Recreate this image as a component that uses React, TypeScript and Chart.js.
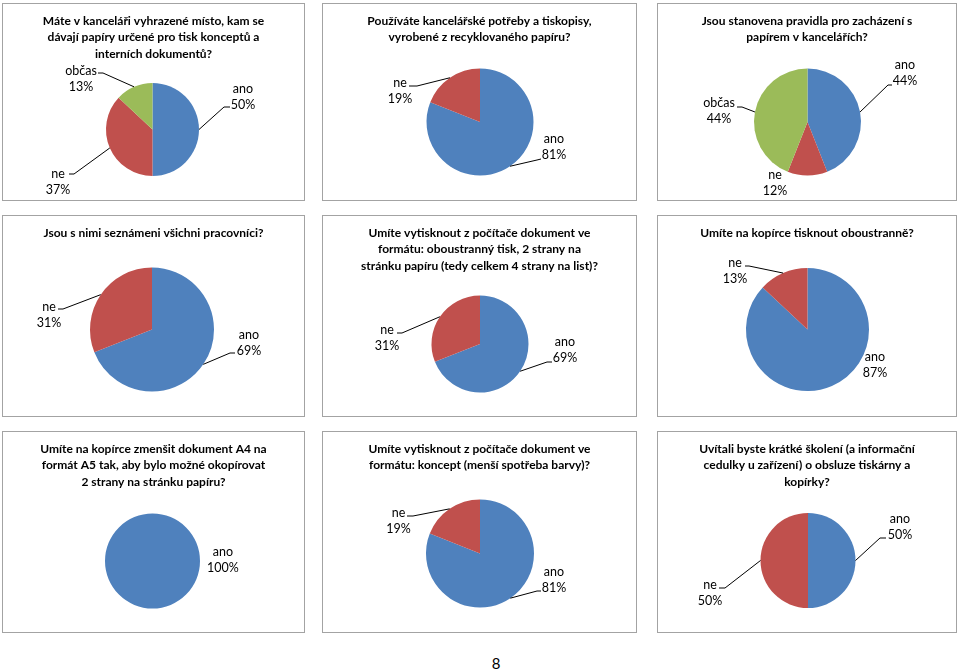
import React, { useEffect, useRef } from 'react';
import { Chart, registerables } from 'chart.js';

Chart.register(...registerables);

// ---------- data ----------
const SLICE_COLORS = ['#4F81BD', '#C0504D', '#9BBB59'];

const Q1_TITLE = ['Máte v kanceláři vyhrazené místo, kam se', 'dávají papíry určené pro tisk konceptů a', 'interních dokumentů?'];
const Q1_LABELS = ['ano', 'ne', 'občas'];
const Q1_VALUES = [50, 37, 13];

const Q2_TITLE = ['Používáte kancelářské potřeby a tiskopisy,', 'vyrobené z recyklovaného papíru?'];
const Q2_LABELS = ['ano', 'ne'];
const Q2_VALUES = [81, 19];

const Q3_TITLE = ['Jsou stanovena pravidla pro zacházení s', 'papírem v kancelářích?'];
const Q3_LABELS = ['ano', 'ne', 'občas'];
const Q3_VALUES = [44, 12, 44];

const Q4_TITLE = ['Jsou s nimi seznámeni všichni pracovníci?'];
const Q4_LABELS = ['ano', 'ne'];
const Q4_VALUES = [69, 31];

const Q5_TITLE = ['Umíte vytisknout z počítače dokument ve', 'formátu: oboustranný tisk, 2 strany na', 'stránku papíru (tedy celkem 4 strany na list)?'];
const Q5_LABELS = ['ano', 'ne'];
const Q5_VALUES = [69, 31];

const Q6_TITLE = ['Umíte na kopírce tisknout oboustranně?'];
const Q6_LABELS = ['ano', 'ne'];
const Q6_VALUES = [87, 13];

const Q7_TITLE = ['Umíte na kopírce zmenšit dokument A4 na', 'formát A5 tak, aby bylo možné okopírovat', '2 strany na stránku papíru?'];
const Q7_LABELS = ['ano'];
const Q7_VALUES = [100];

const Q8_TITLE = ['Umíte vytisknout z počítače dokument ve', 'formátu: koncept (menší spotřeba barvy)?'];
const Q8_LABELS = ['ano', 'ne'];
const Q8_VALUES = [81, 19];

const Q9_TITLE = ['Uvítali byste krátké školení (a informační', 'cedulky u zařízení) o obsluze tiskárny a', 'kopírky?'];
const Q9_LABELS = ['ano', 'ne'];
const Q9_VALUES = [50, 50];

const PAGE_NUMBER = '8';

// ---------- layout ----------
type Callout = { text: [number, number]; end?: [number, number]; elbow?: [number, number] };
type Panel = {
  title: string[];
  labels: string[];
  values: number[];
  box: [number, number, number, number]; // left, top, width, height (page px, incl. border)
  center: [number, number]; // page px
  radius: number;
  callouts: Callout[];
};

const PANELS: Panel[] = [
  {
    title: Q1_TITLE, labels: Q1_LABELS, values: Q1_VALUES,
    box: [2, 3, 303, 198], center: [152.5, 129.5], radius: 46.5,
    callouts: [
      { text: [90.5, -32.5], end: [77.5, -22.5], elbow: [71.5, -22.5] },
      { text: [-94.5, 52.5], end: [-83.5, 44.5], elbow: [-78.5, 44.5] },
      { text: [-71.5, -50.5], end: [-54.5, -56.5], elbow: [-49.5, -56.5] },
    ],
  },
  {
    title: Q2_TITLE, labels: Q2_LABELS, values: Q2_VALUES,
    box: [322, 3, 315, 198], center: [480, 122], radius: 53.5,
    callouts: [
      { text: [74, 25], end: [61, 37], elbow: [57, 38] },
      { text: [-80, -31], end: [-71, -36], elbow: [-63, -36] },
    ],
  },
  {
    title: Q3_TITLE, labels: Q3_LABELS, values: Q3_VALUES,
    box: [657, 3, 300, 198], center: [807.5, 122], radius: 53.5,
    callouts: [
      { text: [97.5, -49], end: [84.5, -37], elbow: [80.5, -37] },
      { text: [-32.5, 61] },
      { text: [-88.5, -11], end: [-70.5, -15], elbow: [-65.5, -15] },
    ],
  },
  {
    title: Q4_TITLE, labels: Q4_LABELS, values: Q4_VALUES,
    box: [2, 215, 303, 202], center: [152, 329.5], radius: 62,
    callouts: [
      { text: [97, 13], end: [83, 23.5], elbow: [78, 23.5] },
      { text: [-103, -14.5], end: [-94, -20.5], elbow: [-89, -20.5] },
    ],
  },
  {
    title: Q5_TITLE, labels: Q5_LABELS, values: Q5_VALUES,
    box: [322, 215, 315, 202], center: [480, 344], radius: 48.5,
    callouts: [
      { text: [85, 6], end: [72, 18], elbow: [67, 18] },
      { text: [-93, -6.5], end: [-83, -11], elbow: [-78, -11] },
    ],
  },
  {
    title: Q6_TITLE, labels: Q6_LABELS, values: Q6_VALUES,
    box: [657, 215, 300, 202], center: [807.5, 329.5], radius: 61.5,
    callouts: [
      { text: [67.5, 35.5] },
      { text: [-72.5, -58.5], end: [-62.5, -63.5], elbow: [-58.5, -63.5] },
    ],
  },
  {
    title: Q7_TITLE, labels: Q7_LABELS, values: Q7_VALUES,
    box: [2, 431, 303, 202], center: [152.5, 561], radius: 47.5,
    callouts: [{ text: [70.5, -1] }],
  },
  {
    title: Q8_TITLE, labels: Q8_LABELS, values: Q8_VALUES,
    box: [322, 431, 315, 202], center: [480, 553.5], radius: 54,
    callouts: [
      { text: [74, 26.5], end: [61, 37.5], elbow: [57, 37.5] },
      { text: [-81.5, -32.5], end: [-73, -37.5], elbow: [-67, -37.5] },
    ],
  },
  {
    title: Q9_TITLE, labels: Q9_LABELS, values: Q9_VALUES,
    box: [657, 431, 300, 202], center: [808, 560.5], radius: 47.5,
    callouts: [
      { text: [92, -33.5], end: [78, -22.5], elbow: [72, -22.5] },
      { text: [-98, 32.5], end: [-89, 27.5], elbow: [-83, 27.5] },
    ],
  },
];

const FONT_FAMILY = 'Lato, "Open Sans", sans-serif';
const TITLE_FONT = `bold 12px ${FONT_FAMILY}`;
const LABEL_FONT = `12.5px ${FONT_FAMILY}`;
const TITLE_OFFSET = 17; // first title line centre below panel inner top
const TITLE_LINE = 16.5;
const LABEL_LINE = 16;

function makePlugin(panel: Panel) {
  return {
    id: 'panelDecor',
    afterDraw(chart: any) {
      const ctx: CanvasRenderingContext2D = chart.ctx;
      const w = chart.width;
      ctx.save();
      // title
      ctx.fillStyle = '#000';
      ctx.font = TITLE_FONT;
      ctx.textAlign = 'center';
      ctx.textBaseline = 'middle';
      panel.title.forEach((line, i) => {
        ctx.fillText(line, w / 2, TITLE_OFFSET + i * TITLE_LINE);
      });
      // callouts
      const meta = chart.getDatasetMeta(0);
      const ds = chart.data.datasets[0];
      ctx.font = LABEL_FONT;
      meta.data.forEach((arc: any, i: number) => {
        const c = panel.callouts[i];
        if (!c) return;
        const cx = arc.x;
        const cy = arc.y;
        const r = arc.outerRadius;
        const mid = (arc.startAngle + arc.endAngle) / 2;
        if (c.end && c.elbow) {
          const sx = cx + Math.cos(mid) * r;
          const sy = cy + Math.sin(mid) * r;
          ctx.strokeStyle = '#000';
          ctx.lineWidth = 1;
          ctx.beginPath();
          ctx.moveTo(sx, sy);
          ctx.lineTo(cx + c.elbow[0], cy + c.elbow[1]);
          ctx.lineTo(cx + c.end[0], cy + c.end[1]);
          ctx.stroke();
        }
        const tx = cx + c.text[0];
        const ty = cy + c.text[1];
        ctx.fillStyle = '#000';
        ctx.fillText(String(chart.data.labels[i]), tx, ty - LABEL_LINE / 2);
        ctx.fillText(`${ds.data[i]}%`, tx, ty + LABEL_LINE / 2);
      });
      ctx.restore();
    },
  };
}

function PiePanel({ panel }: { panel: Panel }) {
  const ref = useRef<HTMLCanvasElement | null>(null);
  const [left, top, width, height] = panel.box;
  const innerW = width - 2;
  const innerH = height - 2;
  useEffect(() => {
    if (!ref.current) return;
    const cx = panel.center[0] - (left + 1);
    const cy = panel.center[1] - (top + 1);
    const r = panel.radius;
    const chart = new Chart(ref.current, {
      type: 'pie',
      data: {
        labels: panel.labels,
        datasets: [
          {
            data: panel.values,
            backgroundColor: SLICE_COLORS.slice(0, panel.values.length),
            borderWidth: 0,
          },
        ],
      },
      options: {
        responsive: false,
        maintainAspectRatio: false,
        devicePixelRatio: 1,
        animation: false,
        events: [],
        layout: {
          padding: {
            left: cx - r,
            right: innerW - cx - r,
            top: cy - r,
            bottom: innerH - cy - r,
          },
        },
        plugins: {
          legend: { display: false },
          tooltip: { enabled: false },
          title: { display: false },
        },
      },
      plugins: [makePlugin(panel)],
    });
    return () => chart.destroy();
  }, [panel]);
  return (
    <div
      style={{
        position: 'absolute',
        left,
        top,
        width,
        height,
        boxSizing: 'border-box',
        border: '1px solid #a3a3a3',
        background: '#fff',
      }}
    >
      <canvas ref={ref} width={innerW} height={innerH} style={{ display: 'block', width: innerW, height: innerH }} />
    </div>
  );
}

export default function App() {
  return (
    <div style={{ position: 'fixed', left: 0, top: 0, width: 960, height: 670, background: '#fff', overflow: 'hidden' }}>
      {PANELS.map((p, i) => (
        <PiePanel key={i} panel={p} />
      ))}
      <div
        style={{
          position: 'absolute',
          left: 476,
          top: 653,
          width: 40,
          textAlign: 'center',
          font: `15px ${FONT_FAMILY}`,
          color: '#000',
          lineHeight: '20px',
        }}
      >
        {PAGE_NUMBER}
      </div>
    </div>
  );
}
